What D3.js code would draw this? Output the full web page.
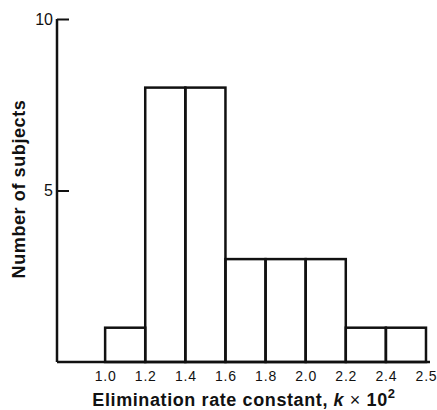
<!DOCTYPE html>
<html>
<head>
<meta charset="utf-8">
<script src="https://cdn.jsdelivr.net/npm/d3@7"></script>
<style>
  body { margin: 0; background: #fff; }
  text { font-family: "Liberation Sans", Arial, sans-serif; fill: #111; }
</style>
</head>
<body>
<svg width="437" height="410"></svg>
<script>
// bin edges (k x 10^2) and number of subjects per bin
let edges = [1.0, 1.2, 1.4, 1.6, 1.8, 2.0, 2.2, 2.4, 2.6]
let edgeLabels = ["1.0", "1.2", "1.4", "1.6", "1.8", "2.0", "2.2", "2.4", "2.5"]
let counts = [1, 8, 8, 3, 3, 3, 1, 1]
let yTicks = [5, 10]

let svg = d3.select("svg")

let x = d3.scaleLinear().domain([0.76, 2.62]).range([57, 430])
let y = d3.scaleLinear().domain([0, 10]).range([362, 19])

let bins = counts.map((c, i) => ({x0: edges[i], x1: edges[i + 1], n: c}))

svg.selectAll(".bar")
  .data(bins)
  .enter().append("rect")
    .attr("class", "bar")
    .attr("x", d => x(d.x0))
    .attr("y", d => y(d.n))
    .attr("width", d => x(d.x1) - x(d.x0))
    .attr("height", d => y(0) - y(d.n))
    .attr("fill", "none")
    .attr("stroke", "#111")
    .attr("stroke-width", 2.5)

// x axis (baseline)
let gx = svg.append("g")
    .attr("transform", "translate(0," + y(0) + ")")
    .call(d3.axisBottom(x).tickValues(edges).tickSize(0).tickPadding(9)
      .tickFormat((d, i) => edgeLabels[i]))
gx.attr("font-size", 14).attr("font-family", null).attr("letter-spacing", 0.8)
gx.select(".domain").attr("stroke", "#111").attr("stroke-width", 2.5)
  .attr("d", "M" + x.range()[0] + ",0H" + x.range()[1])

// y axis with inward ticks
let gy = svg.append("g")
    .attr("transform", "translate(" + x.range()[0] + ",0)")
    .call(d3.axisLeft(y).tickValues(yTicks).tickSize(-12).tickPadding(5))
gy.attr("font-size", 16).attr("font-family", null)
gy.select(".domain").attr("stroke", "#111").attr("stroke-width", 2.5)
  .attr("d", "M0," + y(0) + "V" + y(10))
gy.selectAll(".tick line").attr("stroke", "#111").attr("stroke-width", 2)
gy.selectAll(".tick text").attr("x", -4)

// axis titles
svg.append("text")
    .attr("x", 244).attr("y", 406)
    .attr("text-anchor", "middle")
    .attr("font-size", 18).attr("font-weight", "bold").attr("letter-spacing", 0.6)
    .html('Elimination rate constant, <tspan font-style="italic">k</tspan> <tspan font-weight="normal">×</tspan> 10<tspan dy="-8" font-size="13">2</tspan>')

svg.append("text")
    .attr("transform", "translate(25,189) rotate(-90)")
    .attr("text-anchor", "middle")
    .attr("font-size", 18).attr("font-weight", "bold").attr("letter-spacing", 0.6)
    .text("Number of subjects")
</script>
</body>
</html>
